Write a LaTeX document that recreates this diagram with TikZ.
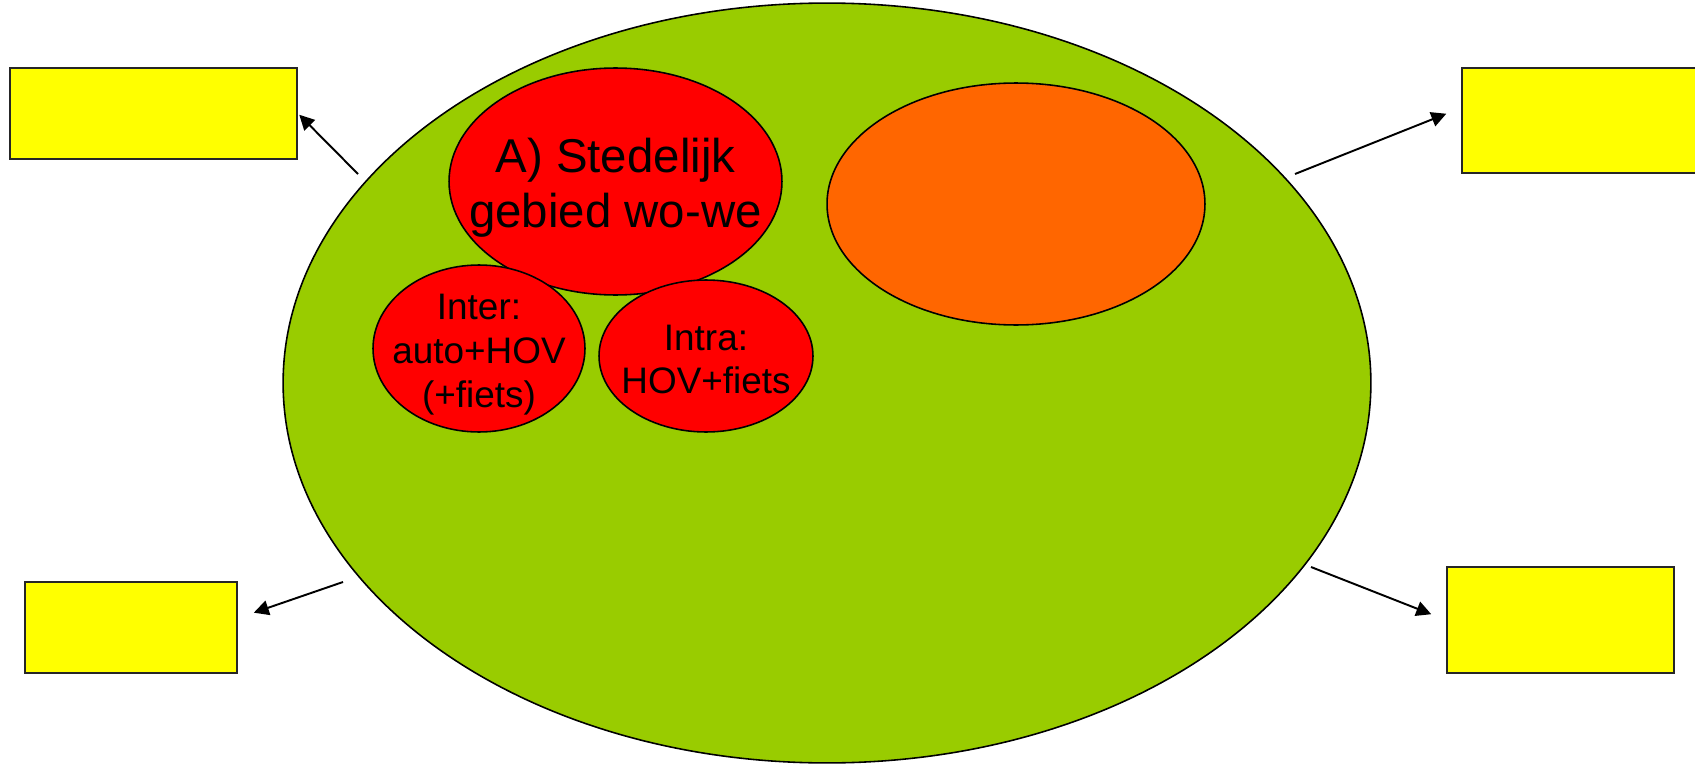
\documentclass[tikz,border=0pt]{standalone}
\usepackage{fontspec}
\setmainfont{Liberation Sans}
\usetikzlibrary{arrows.meta,shapes.geometric}
\definecolor{groen}{HTML}{99CC00}
\definecolor{rood}{HTML}{FF0000}
\definecolor{oranje}{HTML}{FF6600}
\definecolor{geel}{HTML}{FFFF00}

\begin{document}
\begin{tikzpicture}[x=0.02cm,y=-0.02cm,
    zone/.style={draw=black,ellipse,inner sep=0pt,line width=0.9pt},
    vak/.style={draw=black!85,fill=geel,inner sep=0pt,line width=1.2pt},
    pijl/.style={line width=1.1pt,-{Triangle[length=8.5pt,width=8.5pt]}},
    groot/.style={font=\fontsize{27}{31}\selectfont,align=center},
    klein/.style={font=\fontsize{21}{25}\selectfont,align=center}]
    \path[use as bounding box,fill=white] (0,0) rectangle (1695,764);
    % gebieden
    \node [zone,fill=groen,minimum width=21.76cm,minimum height=15.2cm] (gebied) at (827,383) {};
    \node [zone,fill=rood,minimum width=6.66cm,minimum height=4.54cm] (stedelijk) at (615.5,181.5) {};
    \node [zone,fill=oranje,minimum width=7.56cm,minimum height=4.84cm] (oranje) at (1016,204) {};
    \node [zone,fill=rood,minimum width=4.24cm,minimum height=3.34cm] (inter) at (479,348.5) {};
    \node [zone,fill=rood,minimum width=4.28cm,minimum height=3.04cm] (intra) at (706,356) {};
    \node [groot] (stedelijktekst) at ([yshift=-3.5pt]stedelijk.center) {A) Stedelijk\\gebied wo-we};
    \node [klein] (intertekst) at ([yshift=-3.5pt]inter.center) {Inter:\\auto+HOV\\(+fiets)};
    \node [klein] (intratekst) at ([yshift=-2pt]intra.center) {Intra:\\HOV+fiets};
    % lege vakken
    \node [vak,minimum width=5.74cm,minimum height=1.82cm] (vak1) at (153.5,113.5) {};
    \node [vak,minimum width=4.76cm,minimum height=2.1cm] (vak2) at (1581,120.5) {};
    \node [vak,minimum width=4.24cm,minimum height=1.82cm] (vak3) at (131,627.5) {};
    \node [vak,minimum width=4.54cm,minimum height=2.12cm] (vak4) at (1560.5,620) {};
    \coordinate (uit1) at (358,174);
    \coordinate (uit2) at (1295,174);
    \coordinate (uit3) at (343,582);
    \coordinate (uit4) at (1311,567);
    \draw [pijl,shorten >=1pt] (uit1) -- (vak1.east);
    \draw [pijl,shorten >=9pt] (uit2) -- (vak2.174);
    \draw [pijl,shorten >=9.5pt] (uit3) -- (vak3.5.5);
    \draw [pijl,shorten >=9pt] (uit4) -- (vak4.west);
\end{tikzpicture}
\end{document}
